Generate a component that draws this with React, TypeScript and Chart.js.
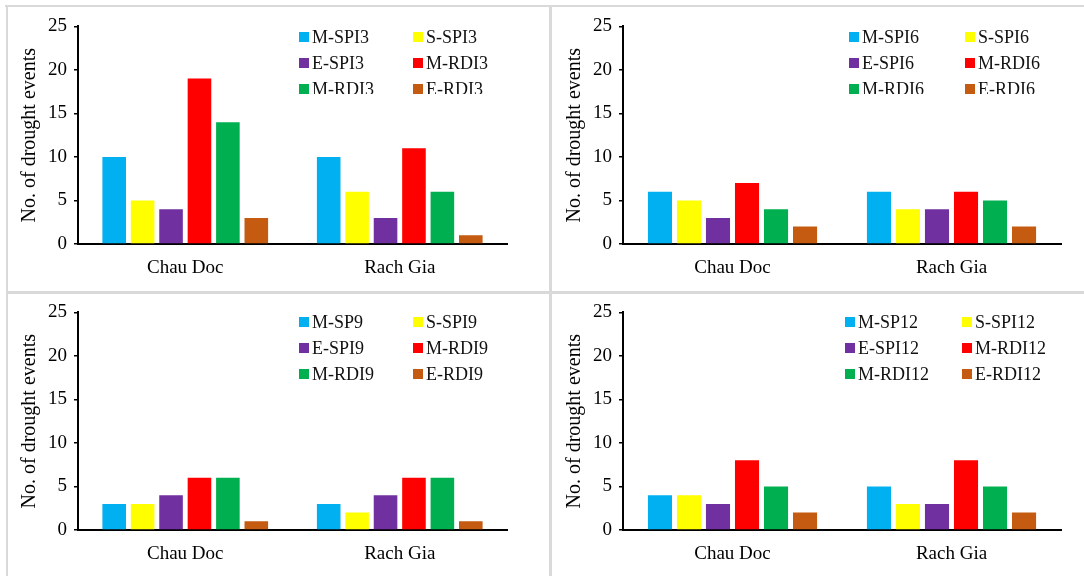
import React, { useEffect, useRef } from "react";
import { Chart, registerables } from "chart.js";

Chart.register(...registerables);

// ---------- data ----------
const categories = ["Chau Doc", "Rach Gia"];

const spi3Labels = ["M-SPI3", "S-SPI3", "E-SPI3", "M-RDI3", "M-RDI3", "E-RDI3"];
const spi3ChauDoc = [10, 5, 4, 19, 14, 3];
const spi3RachGia = [10, 6, 3, 11, 6, 1];

const spi6Labels = ["M-SPI6", "S-SPI6", "E-SPI6", "M-RDI6", "M-RDI6", "E-RDI6"];
const spi6ChauDoc = [6, 5, 3, 7, 4, 2];
const spi6RachGia = [6, 4, 4, 6, 5, 2];

const spi9Labels = ["M-SP9", "S-SPI9", "E-SPI9", "M-RDI9", "M-RDI9", "E-RDI9"];
const spi9ChauDoc = [3, 3, 4, 6, 6, 1];
const spi9RachGia = [3, 2, 4, 6, 6, 1];

const spi12Labels = ["M-SP12", "S-SPI12", "E-SPI12", "M-RDI12", "M-RDI12", "E-RDI12"];
const spi12ChauDoc = [4, 4, 3, 8, 5, 2];
const spi12RachGia = [5, 3, 3, 8, 5, 2];

const yTitle = "No. of drought events";
const yMin = 0;
const yMax = 25;
const yStep = 5;

// ---------- styles ----------
const seriesColors = ["#00B0F0", "#FFFF00", "#7030A0", "#FF0000", "#00B050", "#C55A11"];
const FONT = '"Liberation Serif", "Times New Roman", serif';
const BORDER = "#d9d9d9";

const legendPlugin = {
  id: "panelLegend",
  afterDraw(chart: any, _args: any, opts: any) {
    const ctx = chart.ctx;
    ctx.save();
    if (opts.clipY) {
      ctx.beginPath();
      ctx.rect(0, 0, chart.width, opts.clipY);
      ctx.clip();
    }
    ctx.font = `18px ${FONT}`;
    ctx.textBaseline = "middle";
    ctx.textAlign = "left";
    chart.data.datasets.forEach((ds: any, i: number) => {
      const col = i % 2;
      const row = Math.floor(i / 2);
      const x = opts.colX[col];
      const y = opts.rowY[row];
      ctx.fillStyle = ds.backgroundColor;
      ctx.fillRect(x, y - 5, 10, 10);
      ctx.fillStyle = "#111";
      ctx.fillText(ds.label, x + 13, y + 1);
    });
    ctx.restore();
  },
};

type PanelProps = {
  labels: string[];
  chauDoc: number[];
  rachGia: number[];
  left: number;
  top: number;
  width: number;
  height: number;
  padTop: number;
  padRight: number;
  colX: number[];
  rowY: number[];
  clipY?: number;
};

function Panel(p: PanelProps) {
  const ref = useRef<HTMLCanvasElement | null>(null);
  useEffect(() => {
    if (!ref.current) return;
    const datasets = p.labels.map((l, i) => ({
      label: l,
      data: [p.chauDoc[i], p.rachGia[i]],
      backgroundColor: seriesColors[i],
      borderWidth: 0,
      barPercentage: 0.83,
      categoryPercentage: 0.795,
    }));
    const chart = new Chart(ref.current, {
      type: "bar",
      data: { labels: categories, datasets },
      options: {
        animation: false,
        responsive: false,
        devicePixelRatio: 1,
        layout: { padding: { left: 0, top: p.padTop, right: p.padRight, bottom: 0 } },
        plugins: {
          legend: { display: false },
          tooltip: { enabled: false },
          panelLegend: { colX: p.colX, rowY: p.rowY, clipY: p.clipY },
        } as any,
        scales: {
          x: {
            grid: { display: false, drawTicks: false },
            border: { display: true, color: "#000", width: 2 },
            ticks: { font: { family: FONT, size: 19 }, color: "#000", padding: 13 },
            afterFit: (s: any) => {
              s.height = 46;
            },
          },
          y: {
            min: yMin,
            max: yMax,
            ticks: { stepSize: yStep, font: { family: FONT, size: 19 }, color: "#000", padding: 7 },
            grid: { drawOnChartArea: false, drawTicks: true, tickLength: 4, color: "#000", lineWidth: 1.5 },
            border: { display: true, color: "#000", width: 2 },
            title: {
              display: true,
              text: yTitle,
              font: { family: FONT, size: 20 },
              color: "#000",
              padding: { top: 10, bottom: 0 },
            },
            afterFit: (s: any) => {
              s.width = 70;
            },
          },
        },
      },
      plugins: [legendPlugin],
    });
    return () => chart.destroy();
  }, []);
  return (
    <canvas
      ref={ref}
      width={p.width}
      height={p.height}
      style={{ position: "absolute", left: p.left, top: p.top, width: p.width, height: p.height }}
    />
  );
}

export default function App() {
  const line = (style: React.CSSProperties) => (
    <div style={{ position: "absolute", background: BORDER, ...style }} />
  );
  return (
    <div
      style={{
        position: "fixed",
        left: 0,
        top: 0,
        width: 1084,
        height: 576,
        background: "#fff",
        overflow: "hidden",
      }}
    >
      <Panel labels={spi3Labels} chauDoc={spi3ChauDoc} rachGia={spi3RachGia}
        left={8} top={8} width={541} height={282} padTop={10} padRight={42}
        colX={[291, 405]} rowY={[29, 55, 81]} clipY={86} />
      <Panel labels={spi6Labels} chauDoc={spi6ChauDoc} rachGia={spi6RachGia}
        left={553} top={8} width={531} height={282} padTop={10} padRight={23}
        colX={[296, 412]} rowY={[29, 55, 81]} clipY={86} />
      <Panel labels={spi9Labels} chauDoc={spi9ChauDoc} rachGia={spi9RachGia}
        left={8} top={294} width={541} height={282} padTop={11} padRight={42}
        colX={[291, 405]} rowY={[28, 54, 80]} />
      <Panel labels={spi12Labels} chauDoc={spi12ChauDoc} rachGia={spi12RachGia}
        left={553} top={294} width={531} height={282} padTop={11} padRight={23}
        colX={[292, 409]} rowY={[28, 54, 80]} />
      {line({ left: 5, top: 5, width: 1079, height: 2 })}
      {line({ left: 6, top: 5, width: 2, height: 571 })}
      {line({ left: 549, top: 5, width: 3, height: 571 })}
      {line({ left: 6, top: 291, width: 1078, height: 3 })}
    </div>
  );
}
